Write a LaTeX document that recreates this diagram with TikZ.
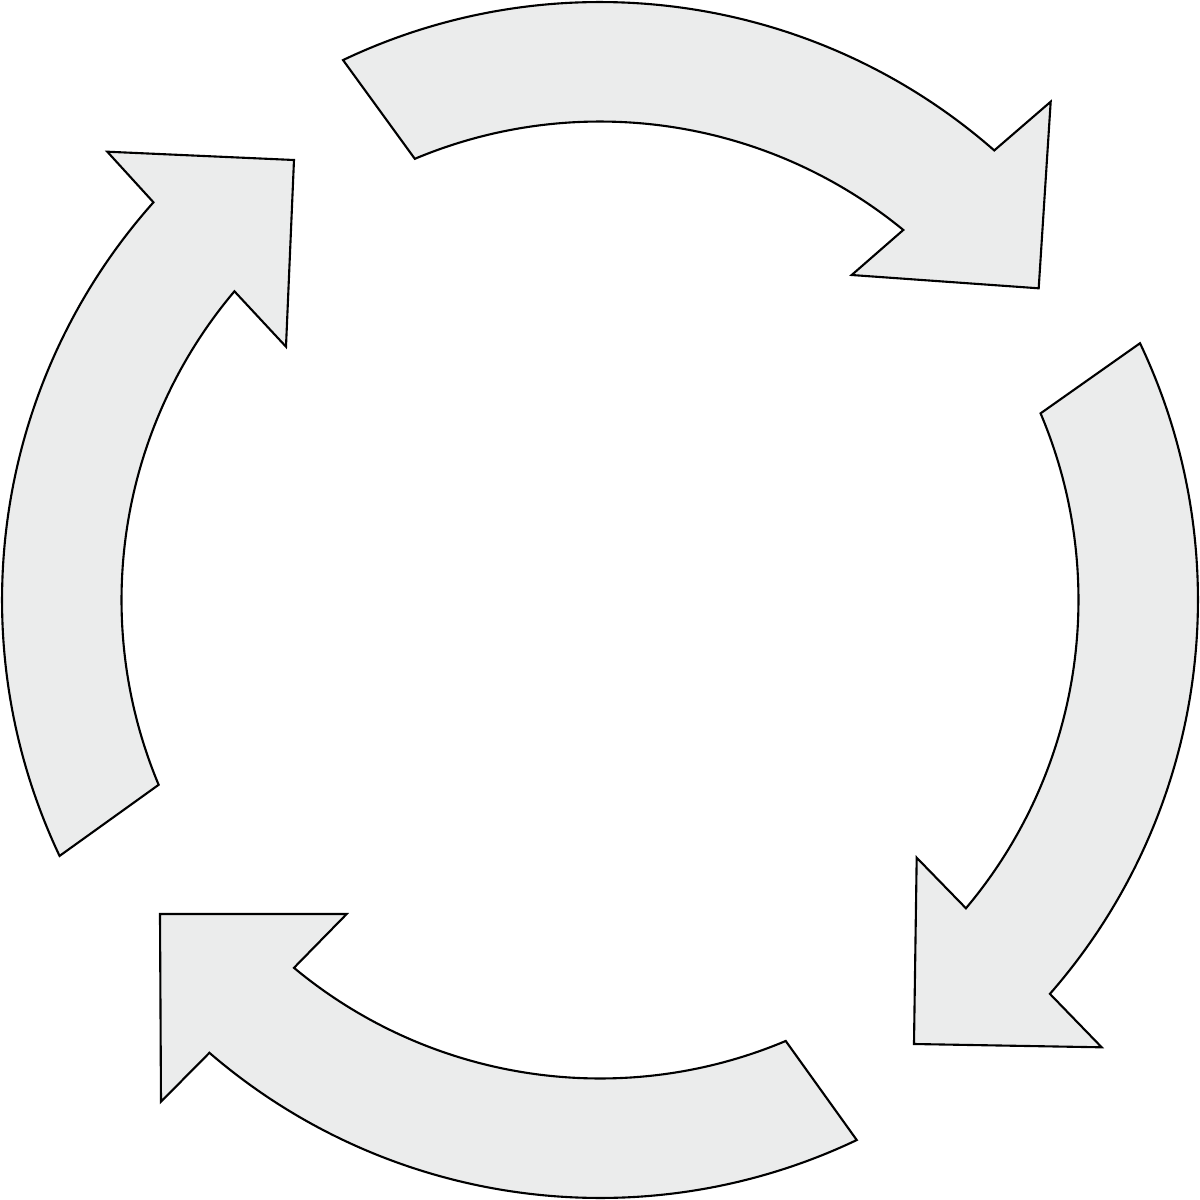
\documentclass[tikz,border=0pt]{standalone}
\usepackage{tikz}
\definecolor{arrowgray}{HTML}{EBECEC}
\tikzset{
  cyclearrow/.style={draw=black, fill=arrowgray, line width=0.6pt, line join=miter}
}

\begin{document}
\begin{tikzpicture}
    \useasboundingbox (-6,-6) rectangle (6,6);
    % top arrow
    \draw[cyclearrow] (115.45:5.98) arc[start angle=115.45, end angle=48.75, radius=5.98]
        -- (4.507,4.983) -- (4.387,3.117) -- (2.517,3.25)
        -- (50.66:4.785) arc[start angle=50.66, end angle=112.77, radius=4.785]
        -- cycle;
    % right arrow
    \draw[cyclearrow] (25.43:5.98) arc[start angle=25.43, end angle=-41.2, radius=5.98]
        -- (5.017,-4.473) -- (3.14,-4.44) -- (3.167,-2.577)
        -- (-40.11:4.785) arc[start angle=-40.11, end angle=22.96, radius=4.785]
        -- cycle;
    % bottom arrow
    \draw[cyclearrow] (-64.57:5.98) arc[start angle=-64.57, end angle=-130.78, radius=5.98]
        -- (-4.39,-5.017) -- (-4.4,-3.14) -- (-2.533,-3.14)
        -- (-129.76:4.785) arc[start angle=-129.76, end angle=-67.16, radius=4.785]
        -- cycle;
    % left arrow
    \draw[cyclearrow] (205.34:5.98) arc[start angle=205.34, end angle=138.31, radius=5.98]
        -- (-4.927,4.483) -- (-3.06,4.4) -- (-3.14,2.533)
        -- (139.82:4.785) arc[start angle=139.82, end angle=202.72, radius=4.785]
        -- cycle;
\end{tikzpicture}
\end{document}
